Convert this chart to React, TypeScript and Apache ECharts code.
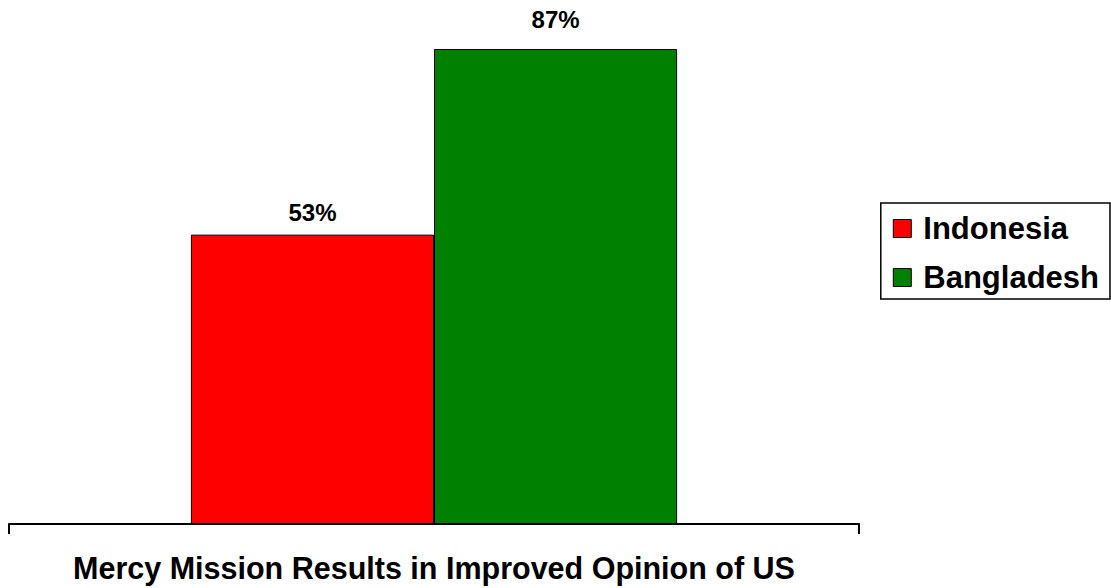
import React, { useEffect, useRef } from "react";
import * as echarts from "echarts";

const categories = ["Mercy Mission Results in Improved Opinion of US"];
const seriesNames = ["Indonesia", "Bangladesh"];
const indonesiaValues = [53];
const bangladeshValues = [87];
const seriesColors = ["#FF0000", "#008000"];

const FONT = "'Liberation Sans', Arial, sans-serif";

export default function App() {
  const ref = useRef<HTMLDivElement>(null);
  useEffect(() => {
    if (!ref.current) return;
    const chart = echarts.init(ref.current, null, { renderer: "svg" });
    const allValues = [...indonesiaValues, ...bangladeshValues];
    const yMax = Math.max(...allValues);
    const mk = (name: string, data: number[], color: string, labelDist: number) => ({
      name,
      type: "bar",
      data,
      barGap: "0%",
      barCategoryGap: "42.8%",
      itemStyle: { color, borderColor: "#000", borderWidth: 1 },
      label: {
        show: true,
        position: "top",
        distance: labelDist,
        formatter: "{c}%",
        fontFamily: FONT,
        fontWeight: "bold",
        fontSize: 24,
        color: "#000",
      },
    });
    chart.setOption({
      animation: false,
      grid: { left: 9, right: 252, top: 49, bottom: 64, containLabel: false },
      legend: {
        orient: "vertical",
        right: 1,
        top: 203,
        data: seriesNames,
        icon: "rect",
        itemWidth: 18,
        itemHeight: 18,
        itemGap: 18,
        padding: [10, 11, 6, 12],
        borderColor: "#000",
        borderWidth: 1.5,
        itemStyle: { borderColor: "#000", borderWidth: 1 },
        textStyle: {
          fontFamily: FONT,
          fontWeight: "bold",
          fontSize: 31,
          color: "#000",
          padding: [0, 0, 0, 7],
        },
      },
      xAxis: {
        type: "category",
        data: categories,
        axisLine: { lineStyle: { color: "#000", width: 2 } },
        axisTick: { show: true, length: 10, lineStyle: { color: "#000", width: 2 } },
        axisLabel: {
          margin: 28,
          fontFamily: FONT,
          fontWeight: "bold",
          fontSize: 30.5,
          color: "#000",
        },
      },
      yAxis: {
        type: "value",
        min: 0,
        max: yMax,
        show: false,
        splitLine: { show: false },
      },
      series: [
        mk(seriesNames[0], indonesiaValues, seriesColors[0], 10),
        mk(seriesNames[1], bangladeshValues, seriesColors[1], 18),
      ],
    });
    return () => chart.dispose();
  }, []);
  return <div ref={ref} style={{ width: 1111, height: 588, position: "absolute", left: 0, top: 0 }} />;
}
